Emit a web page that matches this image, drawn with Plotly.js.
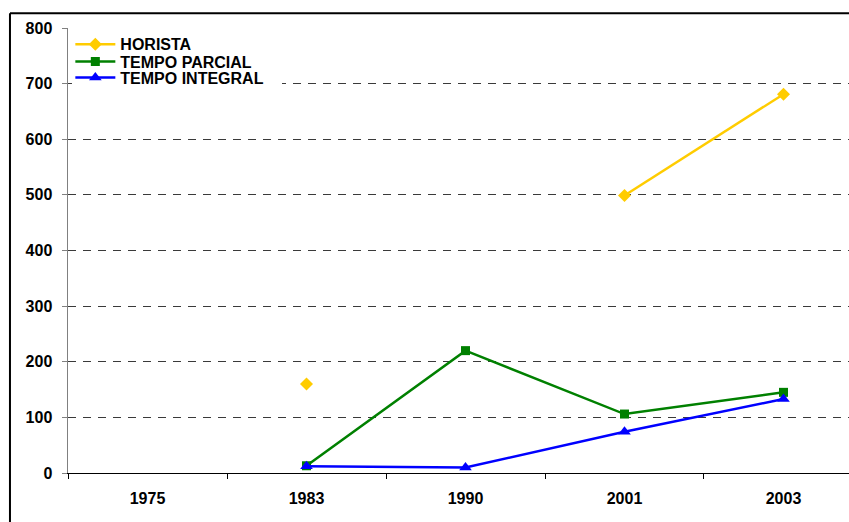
<!DOCTYPE html>
<html>
<head>
<meta charset="utf-8">
<script src="https://cdn.plot.ly/plotly-3.0.1.min.js"></script>
<style>
  html, body { margin: 0; padding: 0; background: #fff; }
  #chart { width: 849px; height: 522px; }
</style>
</head>
<body>
<div id="chart"></div>
<script>
// Years on the category axis
const years = ['1975', '1983', '1990', '2001', '2003'];

// Series values (null = no data for that year)
const horista       = [null, 160, null, 499, 681];
const tempoParcial  = [null, 13, 220, 106, 145];
const tempoIntegral = [null, 12, 10, 74, 133];

const seriesNames = ['HORISTA', 'TEMPO PARCIAL', 'TEMPO INTEGRAL'];

const FONT = 'Liberation Sans, Arial, Helvetica, sans-serif';

const traces = [
  {
    x: years, y: horista, name: seriesNames[0], type: 'scatter', mode: 'lines+markers',
    legend: 'legend',
    line: {color: '#FFCC00', width: 2.5},
    marker: {symbol: 'diamond', size: 10, color: '#FFCC00'}
  },
  {
    x: years, y: tempoParcial, name: seriesNames[1], type: 'scatter', mode: 'lines+markers',
    legend: 'legend2',
    line: {color: '#008000', width: 2.5},
    marker: {symbol: 'square', size: 9, color: '#008000'}
  },
  {
    x: years, y: tempoIntegral, name: seriesNames[2], type: 'scatter', mode: 'lines+markers',
    legend: 'legend3',
    line: {color: '#0000FF', width: 2.5},
    marker: {symbol: 'triangle-up', size: 11, color: '#0000FF'}
  }
];

// one single-entry legend per series so the rows can sit tightly stacked
function legendAt(y) {
  return {
    x: 0.003, y: y, xanchor: 'left', yanchor: 'middle',
    bgcolor: 'rgba(0,0,0,0)',
    font: {family: FONT, size: 16, color: '#000', weight: 'bold'},
    itemwidth: 40
  };
}

const tickFont = {family: FONT, size: 16, color: '#000', weight: 'bold'};

const layout = {
  width: 849,
  height: 522,
  margin: {l: 68, r: 0, t: 28, b: 49},
  paper_bgcolor: '#ffffff',
  plot_bgcolor: '#ffffff',
  font: {family: FONT, size: 13, color: '#000'},
  showlegend: true,
  legend: legendAt(0.9634),
  legend2: legendAt(0.9243),
  legend3: legendAt(0.8883),
  xaxis: {
    type: 'category',
    range: [-0.5, 4.412],
    tickson: 'boundaries',
    ticks: 'outside',
    ticklen: 5,
    tickcolor: '#000',
    showline: true,
    linecolor: '#000',
    linewidth: 1,
    showgrid: false,
    zeroline: false,
    ticklabelstandoff: 11,
    tickfont: tickFont,
    fixedrange: true
  },
  yaxis: {
    range: [0, 800],
    dtick: 100,
    ticks: 'outside',
    ticklen: 5,
    tickcolor: '#808080',
    showline: true,
    linecolor: '#808080',
    linewidth: 1.5,
    showgrid: true,
    gridcolor: '#3a3a3a',
    gridwidth: 1,
    griddash: '8px,7px',
    zeroline: false,
    ticklabelstandoff: 6,
    tickfont: tickFont,
    fixedrange: true
  },
  shapes: [
    // white legend panel, hides the gridline behind the legend entries
    {type: 'rect', xref: 'x', yref: 'y', x0: -0.475, x1: 0.846, y0: 690, y1: 788,
     layer: 'between', fillcolor: '#ffffff', line: {width: 0}},
    // outer chart frame (left and top edges)
    {type: 'line', xref: 'paper', yref: 'paper', x0: -0.0743, x1: -0.0743, y0: -0.3, y1: 1.033,
     line: {color: '#000', width: 2}},
    {type: 'line', xref: 'paper', yref: 'paper', x0: -0.0743, x1: 1.1, y0: 1.033, y1: 1.033,
     line: {color: '#000', width: 2}}
  ]
};

Plotly.newPlot('chart', traces, layout, {staticPlot: true, displayModeBar: false});
</script>
</body>
</html>
